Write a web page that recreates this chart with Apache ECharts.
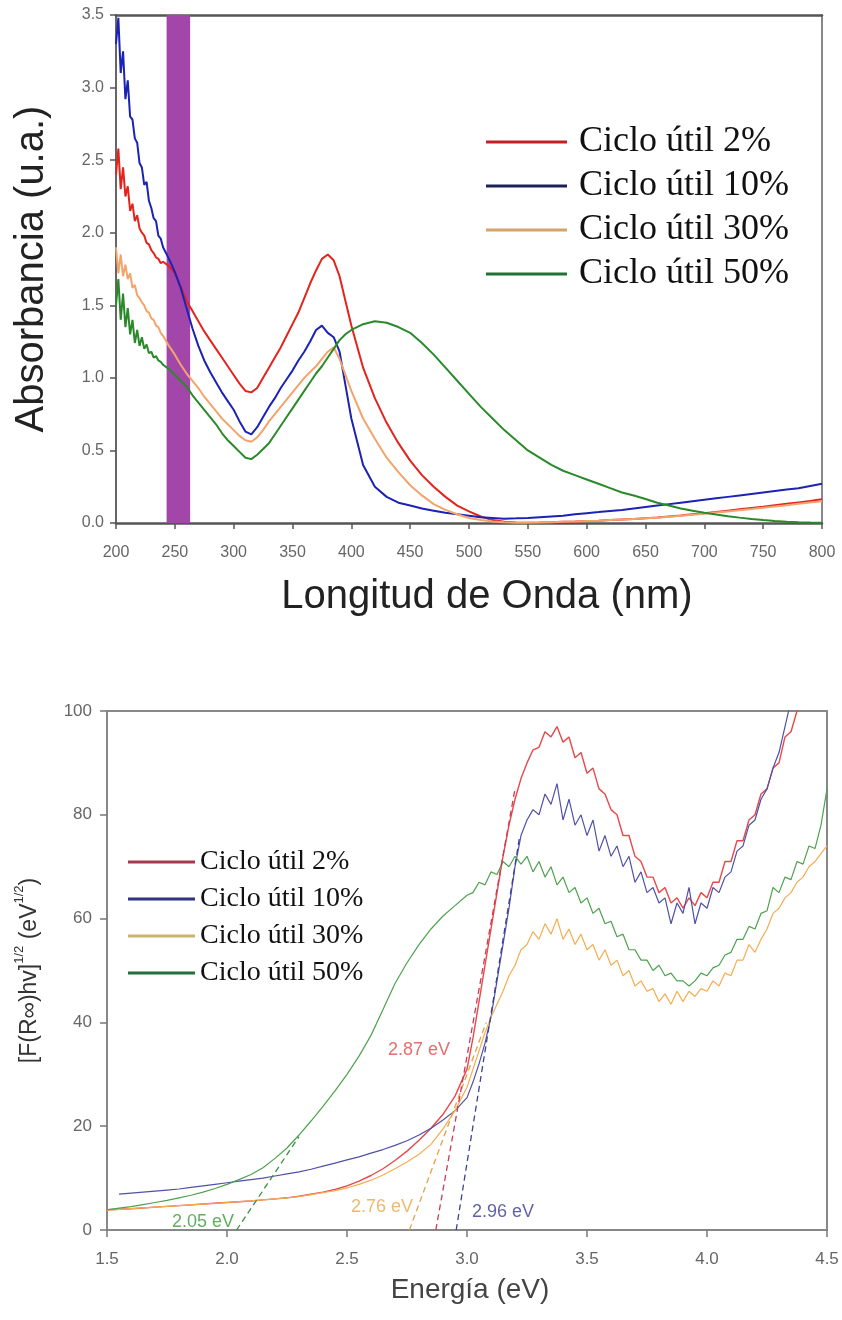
<!DOCTYPE html>
<html><head><meta charset="utf-8">
<script src="https://cdn.jsdelivr.net/npm/echarts@6/dist/echarts.min.js"></script>
<style>html,body{margin:0;padding:0;background:#fff}#c{width:842px;height:1320px}</style>
</head><body><div id="c"></div><script>
// ---------- Top chart: absorbance vs wavelength ----------
const seriesNames = ['Ciclo útil 2%','Ciclo útil 10%','Ciclo útil 30%','Ciclo útil 50%'];
const wl = [200,202,204,206,208,210,212,214,216,218,220,222,224,226,228,230,232,234,236,238,240,
245,250,255,260,265,270,275,280,285,290,295,300,305,310,315,320,325,330,335,340,345,350,355,360,365,370,375,380,385,390,395,400,
410,420,430,440,450,460,470,480,490,500,510,520,530,540,550,560,570,580,590,600,610,620,630,640,650,660,670,680,690,700,710,720,730,740,750,760,770,780,790,800];
const absR2 = [2.40,2.58,2.30,2.45,2.25,2.32,2.15,2.20,2.08,2.12,2.03,2.00,1.98,1.93,1.92,1.88,1.86,1.83,1.82,1.79,1.80,
1.77,1.72,1.63,1.53,1.46,1.39,1.32,1.26,1.20,1.14,1.08,1.02,0.96,0.91,0.90,0.93,1.00,1.07,1.14,1.21,1.29,1.37,1.45,1.55,1.65,1.74,1.82,1.85,1.81,1.70,1.53,1.36,
1.07,0.86,0.69,0.55,0.43,0.33,0.25,0.18,0.12,0.08,0.045,0.02,0.008,0.003,0.002,0.003,0.005,0.008,0.010,0.013,0.016,0.020,0.024,0.028,0.033,0.038,0.045,0.052,0.060,0.068,0.076,0.085,0.094,0.103,0.112,0.122,0.132,0.142,0.152,0.163];
const absR10 = [3.30,3.48,3.10,3.25,2.92,3.05,2.80,2.78,2.65,2.62,2.48,2.45,2.33,2.35,2.22,2.17,2.10,2.08,1.98,1.96,1.90,
1.82,1.73,1.62,1.48,1.34,1.22,1.12,1.04,0.97,0.90,0.84,0.78,0.70,0.63,0.61,0.66,0.73,0.80,0.86,0.93,0.99,1.05,1.12,1.18,1.25,1.33,1.36,1.31,1.28,1.18,0.95,0.72,
0.40,0.25,0.18,0.14,0.12,0.10,0.085,0.07,0.06,0.05,0.04,0.035,0.03,0.032,0.035,0.04,0.045,0.05,0.06,0.068,0.075,0.083,0.09,0.10,0.11,0.12,0.13,0.14,0.15,0.16,0.17,0.18,0.19,0.20,0.21,0.22,0.23,0.24,0.255,0.27];
const absR30 = [1.90,1.72,1.85,1.70,1.78,1.68,1.72,1.62,1.64,1.57,1.55,1.52,1.50,1.46,1.45,1.41,1.40,1.36,1.35,1.31,1.29,
1.22,1.16,1.09,1.03,0.98,0.93,0.87,0.82,0.77,0.72,0.68,0.64,0.60,0.57,0.56,0.59,0.64,0.70,0.75,0.80,0.85,0.90,0.95,1.00,1.04,1.08,1.13,1.18,1.21,1.13,1.02,0.91,
0.72,0.58,0.45,0.35,0.26,0.19,0.13,0.09,0.06,0.035,0.02,0.01,0.005,0.002,0.002,0.003,0.005,0.008,0.010,0.013,0.016,0.020,0.024,0.028,0.032,0.037,0.043,0.050,0.057,0.064,0.072,0.080,0.088,0.096,0.105,0.114,0.123,0.132,0.141,0.150];
const absR50 = [1.50,1.68,1.40,1.58,1.35,1.48,1.30,1.40,1.24,1.33,1.22,1.28,1.20,1.23,1.17,1.18,1.14,1.15,1.12,1.11,1.09,
1.06,1.02,0.98,0.94,0.88,0.83,0.78,0.73,0.68,0.62,0.57,0.53,0.49,0.45,0.44,0.47,0.51,0.55,0.61,0.67,0.73,0.79,0.85,0.91,0.97,1.03,1.08,1.14,1.20,1.26,1.30,1.33,
1.37,1.39,1.38,1.35,1.31,1.24,1.16,1.07,0.98,0.89,0.80,0.72,0.64,0.57,0.50,0.45,0.40,0.36,0.33,0.30,0.27,0.24,0.21,0.19,0.165,0.14,0.12,0.10,0.085,0.07,0.058,0.047,0.037,0.028,0.02,0.014,0.009,0.005,0.003,0.002];
const bandNm = [243, 263];

// ---------- Bottom chart: Kubelka-Munk vs energy ----------
const en = [1.50,1.55,1.60,1.65,1.70,1.75,1.80,1.85,1.90,1.95,2.00,2.05,2.10,2.15,2.20,2.25,2.30,2.35,2.40,2.45,2.50,2.55,2.60,2.65,2.70,2.75,2.80,2.85,2.90,2.95,
3.000,3.025,3.050,3.075,3.100,3.125,3.150,3.175,3.200,3.225,3.250,3.275,3.300,3.325,3.350,3.375,3.400,3.425,3.450,3.475,3.500,3.525,3.550,3.575,3.600,3.625,3.650,3.675,3.700,3.725,3.750,3.775,3.800,3.825,3.850,3.875,3.900,3.925,3.950,3.975,4.000,4.025,4.050,4.075,4.100,4.125,4.150,4.175,4.200,4.225,4.250,4.275,4.300,4.325,4.350,4.375,4.400,4.425,4.450,4.475,4.500];
const kmR2 = [3.9,4.0,4.1,4.25,4.4,4.55,4.7,4.85,5.0,5.15,5.3,5.45,5.6,5.8,6.0,6.2,6.5,6.9,7.3,7.8,8.5,9.4,10.5,11.8,13.4,15.2,17.3,19.6,22.3,25.8,
31,37,44,51,58,65,72,78,83,87,90,92.5,93,96,95,97,94,95,91,92,88,89,85,84,81,80,76,76,72,71,68,68,65,66,63,64,62,64,62.5,65,64,67,67,71,71,75,75,79,80,84,85,89,90,95,96,100,102,null,null,null,null];
const kmR10 = [null,6.9,7.1,7.3,7.5,7.7,7.9,8.2,8.5,8.8,9.1,9.4,9.7,10.0,10.4,10.8,11.2,11.7,12.3,12.9,13.5,14.1,14.8,15.5,16.3,17.2,18.3,19.6,21.2,23.0,
25.5,28.5,32,36,41,48,55,62,70,76,79,81,80,84,82,86,79,83,78,80,76,79,73,76,72,74,70,72,67,69,65,66,63,64,59,63,61,66,59,63,62,66,65,68,69,73,74,78,79,83,85,89,92,97,102,null,null,null,null,null,null];
const kmR30 = [3.8,3.95,4.1,4.25,4.4,4.55,4.7,4.85,5.0,5.15,5.3,5.45,5.6,5.8,6.0,6.2,6.45,6.8,7.2,7.6,8.1,8.8,9.6,10.6,11.8,13.1,14.6,16.5,19.5,23.0,
27.5,31,34.5,38,41,43.5,46,49,51,54,55,57.5,56,59,57,60,56,58,55,57,54,55,52,54,51,52,49,50,47,48,46,46.5,44,45.5,43.5,46,44,46,45,46.5,46,48,47,49.5,49,52,52,55,53.5,56,58,61,62,64,65,67,68,70,71,72.5,74];
const kmR50 = [3.9,4.2,4.5,4.9,5.3,5.7,6.2,6.7,7.3,8.0,8.8,9.7,10.7,12.0,13.8,15.8,18.3,21.0,23.8,26.8,30.0,33.5,37.5,42.5,47.5,51.5,55.0,58.0,60.5,62.5,
64.5,65,67,66.5,69,68.5,71,70,72,70.5,72,69,71,68,70,66.5,68,65,66,63,64,61,62,59,59.5,56.5,57,54,54,52,52,50,51,49,49.5,48,48,47,48,49.5,49,50.5,51,53,53.5,56,56,58.5,58,61,61.5,66,65,68,67.5,71,70.5,74,73.5,78,85];
// band-gap tangent lines [energy, value] and their intercept labels
const tanR50 = [[2.04,0],[2.30,18]];
const tanR30 = [[2.76,0],[3.08,40]];
const tanR2  = [[2.87,0],[3.20,85]];
const tanR10 = [[2.955,0],[3.22,76]];
const gapText = ['2.05 eV','2.76 eV','2.87 eV','2.96 eV'];
const gapAtE  = [1.90, 2.646, 2.80, 3.15];
const gapAtV  = [1.5, 4.4, 34.7, 3.5];

const zip = (xs, ys) => xs.map((x,i) => [x, ys[i]]);
const SANS = 'Liberation Sans, Arial, sans-serif';
const SERIF = 'Liberation Serif, Times New Roman, serif';

const topCol = ['#e3241c','#1c22b4','#f2a46c','#2a8a2a'];
const topLeg = ['#c42024','#1e2058','#d4a468','#1f7233'];
const botCol = ['#e8484a','#5050aa','#f4ad52','#4ea24e'];
const botLeg = ['#a8384e','#2e3480','#cdb46a','#23703a'];
const tanCol = ['#3e8e3e','#e6a048','#cc3a55','#3c4096'];
const gapCol = ['#3a9a3a','#e8a848','#e04848','#3a3a90'];

const chart = echarts.init(document.getElementById('c'));
const lineS = (name, xi, data, color, w, z) => ({
  name, type:'line', xAxisIndex:xi, yAxisIndex:xi, data, symbol:'none', showSymbol:false,
  lineStyle:{color, width:w}, itemStyle:{color}, z, animation:false
});
const tanS = (data, color) => ({
  type:'line', xAxisIndex:2, yAxisIndex:2, data, symbol:'none', silent:true,
  lineStyle:{color, width:1.3, type:[6,4]}, z:6, animation:false
});

const option = {
  animation:false,
  grid:[
    {left:116, top:15, width:706, height:508},
    {left:107, top:711, width:720, height:519}
  ],
  xAxis:[
    {type:'value', gridIndex:0, min:200, max:800, interval:50,
     axisLine:{show:true, onZero:false, lineStyle:{color:'#555', width:2.5}},
     axisTick:{show:true, length:6, lineStyle:{color:'#555', width:1.5}},
     axisLabel:{color:'#666', fontSize:16, fontFamily:SANS, margin:22},
     splitLine:{show:false},
     name:'Longitud de Onda (nm)', nameLocation:'middle', nameGap:54,
     nameTextStyle:{fontSize:40, color:'#222', fontFamily:SANS, padding:[0,0,0,36]}},
    {type:'value', gridIndex:0, position:'top', min:200, max:800,
     axisLine:{show:true, onZero:false, lineStyle:{color:'#555', width:2.5}},
     axisTick:{show:false}, axisLabel:{show:false}, splitLine:{show:false}},
    {type:'value', gridIndex:1, min:1.5, max:4.5, interval:0.5,
     axisLine:{show:true, onZero:false, lineStyle:{color:'#888', width:2}},
     axisTick:{show:true, length:7, lineStyle:{color:'#777', width:1.5}},
     axisLabel:{color:'#666', fontSize:17, fontFamily:SANS, margin:21, formatter:v=>v.toFixed(1)},
     splitLine:{show:false},
     name:'Energía (eV)', nameLocation:'middle', nameGap:46,
     nameTextStyle:{fontSize:28, color:'#444', fontFamily:SANS, padding:[0,0,0,6]}},
    {type:'value', gridIndex:1, position:'top', min:1.5, max:4.5,
     axisLine:{show:true, onZero:false, lineStyle:{color:'#888', width:2}},
     axisTick:{show:false}, axisLabel:{show:false}, splitLine:{show:false}}
  ],
  yAxis:[
    {type:'value', gridIndex:0, min:0, max:3.5, interval:0.5,
     axisLine:{show:true, onZero:false, lineStyle:{color:'#666', width:2}},
     axisTick:{show:true, length:6, lineStyle:{color:'#555', width:1.5}},
     axisLabel:{color:'#666', fontSize:16, fontFamily:SANS, margin:12, formatter:v=>v.toFixed(1)},
     splitLine:{show:false},
     name:'Absorbancia (u.a.)', nameLocation:'middle', nameGap:64,
     nameTextStyle:{fontSize:40, color:'#222', fontFamily:SANS}},
    {type:'value', gridIndex:0, position:'right', min:0, max:3.5,
     axisLine:{show:true, onZero:false, lineStyle:{color:'#888', width:2}},
     axisTick:{show:false}, axisLabel:{show:false}, splitLine:{show:false}},
    {type:'value', gridIndex:1, min:0, max:100, interval:20,
     axisLine:{show:true, onZero:false, lineStyle:{color:'#888', width:2}},
     axisTick:{show:true, length:7, lineStyle:{color:'#777', width:1.5}},
     axisLabel:{color:'#666', fontSize:17, fontFamily:SANS, margin:15},
     splitLine:{show:false},
     name:'{b|[F(R∞)hv]}{s|1/2}{b| (eV}{s|1/2}{b|)}', nameLocation:'middle', nameGap:66,
     nameTextStyle:{color:'#333', fontFamily:SANS,
       rich:{b:{fontSize:23, color:'#333', fontFamily:SANS, lineHeight:28, verticalAlign:'bottom'},
             s:{fontSize:13, color:'#333', fontFamily:SANS, lineHeight:28, verticalAlign:'top'}}}},
    {type:'value', gridIndex:1, position:'right', min:0, max:100,
     axisLine:{show:true, onZero:false, lineStyle:{color:'#888', width:2}},
     axisTick:{show:false}, axisLabel:{show:false}, splitLine:{show:false}}
  ],
  legend:[
    {orient:'vertical', left:486, top:124, padding:0, itemWidth:81, itemHeight:3, itemGap:8,
     textStyle:{fontFamily:SERIF, fontSize:36, color:'#111', lineHeight:36, padding:[0,0,0,7]},
     selectedMode:false,
     data: seriesNames.map((n,i)=>({name:n, icon:'rect', itemStyle:{color:topLeg[i]}}))},
    {orient:'vertical', left:128, top:848, padding:0, itemWidth:67, itemHeight:3, itemGap:9,
     textStyle:{fontFamily:SERIF, fontSize:28, color:'#111', lineHeight:28},
     selectedMode:false,
     data: seriesNames.map((n,i)=>({name:n, icon:'rect', itemStyle:{color:botLeg[i]}}))}
  ],
  series:[
    lineS(seriesNames[0], 0, zip(wl, absR2), topCol[0], 2, 1),
    {type:'line', xAxisIndex:0, yAxisIndex:0, data:[], silent:true, z:2,
     markArea:{silent:true, itemStyle:{color:'#a346aa', opacity:1},
       data:[[{xAxis:bandNm[0]},{xAxis:bandNm[1]}]]}},
    lineS(seriesNames[1], 0, zip(wl, absR10), topCol[1], 2, 3),
    lineS(seriesNames[2], 0, zip(wl, absR30), topCol[2], 2, 3),
    lineS(seriesNames[3], 0, zip(wl, absR50), topCol[3], 2, 3),

    lineS(seriesNames[0], 2, zip(en, kmR2), botCol[0], 1.4, 4),
    lineS(seriesNames[1], 2, zip(en, kmR10), botCol[1], 1.2, 4),
    lineS(seriesNames[2], 2, zip(en, kmR30), botCol[2], 1.2, 4),
    lineS(seriesNames[3], 2, zip(en, kmR50), botCol[3], 1.2, 4),
    tanS(tanR50, tanCol[0]), tanS(tanR30, tanCol[1]), tanS(tanR2, tanCol[2]), tanS(tanR10, tanCol[3]),
    {type:'scatter', xAxisIndex:2, yAxisIndex:2, symbolSize:0, silent:true, z:7,
     data: gapText.map((t,i)=>({value:[gapAtE[i], gapAtV[i]],
       label:{show:true, position:'inside', formatter:t, color:gapCol[i], fontSize:18, fontFamily:SANS}}))}
  ]
};
chart.setOption(option);
</script></body></html>
